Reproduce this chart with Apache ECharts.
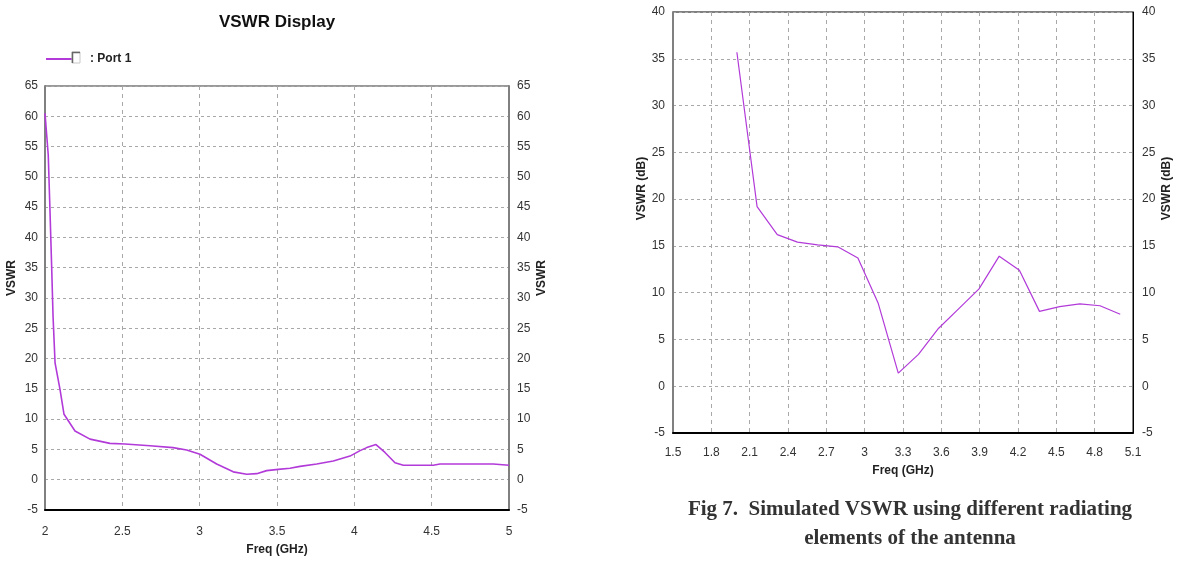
<!DOCTYPE html>
<html>
<head>
<meta charset="utf-8">
<script src="https://cdn.jsdelivr.net/npm/echarts@6/dist/echarts.min.js"></script>
<style>html,body{margin:0;padding:0;background:#fff}#c{width:1194px;height:561px}</style>
</head>
<body>
<div id="c"></div>
<script>
// Left chart: VSWR Display (Port 1)
const leftFreq = [2.0, 2.021, 2.032, 2.043, 2.052, 2.065, 2.097, 2.123, 2.194, 2.291, 2.42, 2.517, 2.679, 2.828, 2.916, 3.002, 3.11, 3.217, 3.304, 3.369, 3.433, 3.508, 3.584, 3.649, 3.757, 3.864, 3.972, 4.037, 4.08, 4.14, 4.198, 4.263, 4.317, 4.51, 4.554, 4.898, 5.0];
const leftVswr = [60.5, 53.6, 44.6, 35.2, 27.0, 19.3, 14.9, 10.8, 8.05, 6.7, 6.0, 5.9, 5.6, 5.3, 4.9, 4.2, 2.6, 1.3, 0.9, 1.0, 1.5, 1.7, 1.9, 2.2, 2.6, 3.1, 3.9, 4.8, 5.3, 5.8, 4.5, 2.8, 2.4, 2.4, 2.6, 2.6, 2.4];
// Right chart: VSWR (dB)
const rightFreq = [2.0, 2.158, 2.316, 2.474, 2.632, 2.789, 2.947, 3.105, 3.263, 3.421, 3.579, 3.737, 3.895, 4.053, 4.211, 4.368, 4.526, 4.684, 4.842, 5.0];
const rightVswr = [35.7, 19.2, 16.2, 15.4, 15.1, 14.9, 13.7, 8.9, 1.4, 3.4, 6.2, 8.3, 10.4, 13.9, 12.4, 8.0, 8.5, 8.8, 8.6, 7.7];
// Axis ranges / tick steps
const leftX = {min: 2, max: 5, step: 0.5};
const leftY = {min: -5, max: 65, step: 5};
const rightX = {min: 1.5, max: 5.1, step: 0.3};
const rightY = {min: -5, max: 40, step: 5};
const titleText = 'VSWR Display';
const legendText = ': Port 1';
const xName = 'Freq (GHz)';
const leftYName = 'VSWR';
const rightYName = 'VSWR (dB)';
const caption = 'Fig 7.  Simulated VSWR using different radiating\nelements of the antenna';

const NARROW = "'Liberation Sans Narrow', 'Arial Narrow', 'Liberation Sans', sans-serif";
const lineColor = '#b23ad9';
const gridLine = {show: true, lineStyle: {color: '#a8a8a8', type: [3, 3], width: 1}};
const tickLabel = {fontFamily: NARROW, fontSize: 12, color: '#333'};
const nameStyle = {fontFamily: NARROW, fontSize: 12, fontWeight: 'bold', color: '#222'};
const fmt = v => String(+v.toFixed(2));

function zip(a, b) { return a.map((x, i) => [x, b[i]]); }

function xAxis(idx, r, margin, gap) {
  return {
    type: 'value', gridIndex: idx, min: r.min, max: r.max, interval: r.step,
    name: xName, nameLocation: 'middle', nameGap: gap, nameTextStyle: nameStyle,
    axisLine: {show: true, onZero: false, lineStyle: {color: '#000', width: 2}},
    axisTick: {show: false},
    axisLabel: Object.assign({margin: margin, formatter: fmt}, tickLabel),
    splitLine: {show: true, lineStyle: {color: '#a8a8a8', type: [4, 4], width: 1}}
  };
}
function yAxis(idx, r, pos, name, gap, lineCol, lineW, shift, margin) {
  return {
    type: 'value', gridIndex: idx, min: r.min, max: r.max, interval: r.step, position: pos,
    name: name, nameLocation: 'middle', nameGap: gap, nameRotate: 90,
    nameTextStyle: Object.assign({padding: [0, 0, 0, shift]}, nameStyle),
    axisLine: {show: true, onZero: false, lineStyle: {color: lineCol, width: lineW}},
    axisTick: {show: false},
    axisLabel: Object.assign({margin: margin, formatter: fmt}, tickLabel),
    splitLine: pos === 'left' ? gridLine : {show: false}
  };
}

const chart = echarts.init(document.getElementById('c'));
chart.setOption({
  backgroundColor: '#fff',
  animation: false,
  legend: {
    data: [legendText], left: 41, top: 48, icon: 'rect', itemWidth: 31, itemHeight: 2,
    textStyle: {fontFamily: NARROW, fontSize: 12, fontWeight: 'bold', color: '#222', padding: [0, 0, 0, 8]},
    selectedMode: false
  },
  grid: [
    {left: 45, top: 86, width: 464, height: 425, show: true, borderColor: '#333', borderWidth: 1, backgroundColor: '#fff'},
    {left: 673, top: 12, width: 460, height: 421, show: true, borderColor: '#000', borderWidth: 1, backgroundColor: '#fff'}
  ],
  xAxis: [xAxis(0, leftX, 16, 34), xAxis(1, rightX, 14, 32)],
  yAxis: [
    yAxis(0, leftY, 'left', leftYName, 27, '#808080', 2, 40, 7),
    yAxis(0, leftY, 'right', leftYName, 27, '#808080', 2, 40, 8),
    yAxis(1, rightY, 'left', rightYName, 25, '#808080', 2, 68, 8),
    yAxis(1, rightY, 'right', rightYName, 28, '#000', 1, 68, 9)
  ],
  series: [
    {name: legendText, type: 'line', xAxisIndex: 0, yAxisIndex: 0, data: zip(leftFreq, leftVswr),
     showSymbol: false, smooth: false, lineStyle: {color: lineColor, width: 1.6}, itemStyle: {color: lineColor}},
    {name: 'right', type: 'line', xAxisIndex: 1, yAxisIndex: 2, data: zip(rightFreq, rightVswr),
     showSymbol: false, smooth: false, lineStyle: {color: lineColor, width: 1.2}, itemStyle: {color: lineColor}}
  ],
  graphic: [
    {type: 'text', style: {text: titleText, x: 277, y: 14, textAlign: 'center',
      font: "bold 17px " + NARROW, fill: '#111'}},
    {type: 'rect', z: 100, shape: {x: 72, y: 52, width: 8, height: 11}, style: {fill: '#fff', stroke: '#c8c8c8', lineWidth: 1}},
    {type: 'polyline', z: 101, shape: {points: [[72.5, 63], [72.5, 52.5], [80, 52.5]]}, style: {stroke: '#666', lineWidth: 1.5, fill: null}},
    {type: 'text', style: {text: caption, x: 910, y: 495, textAlign: 'center', lineHeight: 29,
      font: "bold 21px 'Liberation Serif', 'Times New Roman', serif", fill: '#333'}}
  ]
});
</script>
</body>
</html>
